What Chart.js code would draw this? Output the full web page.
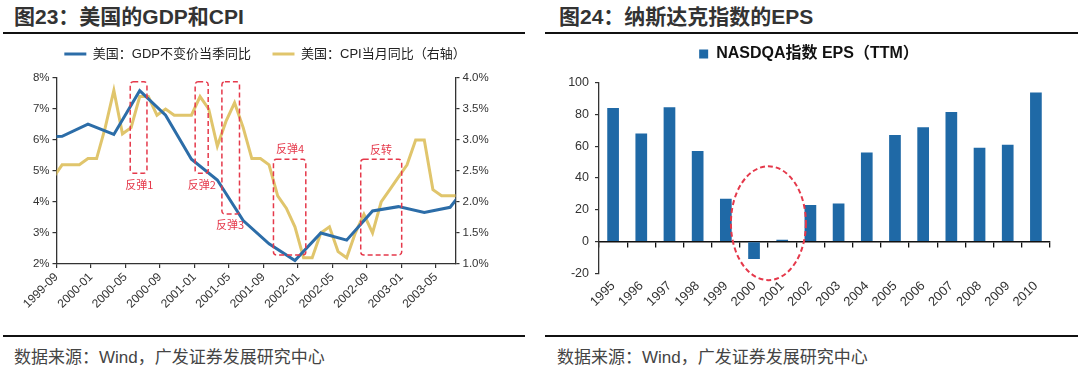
<!DOCTYPE html>
<html><head><meta charset="utf-8">
<script src="https://cdn.jsdelivr.net/npm/chart.js@4.4.0/dist/chart.umd.min.js"></script>
<style>
html,body{margin:0;padding:0;background:#fff;width:1080px;height:373px;overflow:hidden;font-family:"Liberation Sans","Noto Sans CJK SC",sans-serif;}
.title{position:absolute;top:5px;font-size:21px;font-weight:bold;color:#333;white-space:nowrap;line-height:24px;}
.rule{position:absolute;height:2px;background:#111;}
.src{position:absolute;top:347px;font-size:17px;color:#444;white-space:nowrap;line-height:22px;}
#w1{position:absolute;left:0;top:26px;width:530px;height:310px;}
#w2{position:absolute;left:540px;top:21px;width:540px;height:315px;}
</style></head>
<body>
<div class="title" style="left:14px">图23：美国的GDP和CPI</div>
<div class="title" style="left:559px">图24：纳斯达克指数的EPS</div>
<div class="rule" style="left:3px;top:32px;width:522px"></div>
<div class="rule" style="left:545px;top:32px;width:533px"></div>
<div class="rule" style="left:3px;top:335px;width:522px"></div>
<div class="rule" style="left:545px;top:335px;width:533px"></div>
<div class="src" style="left:14px">数据来源：Wind，广发证券发展研究中心</div>
<div class="src" style="left:557px">数据来源：Wind，广发证券发展研究中心</div>
<div id="w1"><canvas id="c1"></canvas></div>
<div id="w2"><canvas id="c2"></canvas></div>
<script>
// ---------- Chart 1 data ----------
const cpiMonths = ['1999-08','1999-09','1999-10','1999-11','1999-12',
 '2000-01','2000-02','2000-03','2000-04','2000-05','2000-06','2000-07','2000-08','2000-09','2000-10','2000-11','2000-12',
 '2001-01','2001-02','2001-03','2001-04','2001-05','2001-06','2001-07','2001-08','2001-09','2001-10','2001-11','2001-12',
 '2002-01','2002-02','2002-03','2002-04','2002-05','2002-06','2002-07','2002-08','2002-09','2002-10','2002-11','2002-12',
 '2003-01','2003-02','2003-03','2003-04','2003-05','2003-06','2003-07'];
const cpiValues = [2.4,2.6,2.6,2.6,2.7,
 2.7,3.2,3.8,3.1,3.2,3.7,3.7,3.4,3.5,3.4,3.4,3.4,
 3.7,3.5,2.9,3.3,3.6,3.2,2.7,2.7,2.6,2.1,1.9,1.6,
 1.1,1.1,1.5,1.6,1.2,1.1,1.5,1.8,1.5,2.0,2.2,2.4,
 2.6,3.0,3.0,2.2,2.1,2.1,2.1];
const gdpQuarters = ['1999-06','1999-09','1999-12','2000-03','2000-06','2000-09','2000-12','2001-03','2001-06',
 '2001-09','2001-12','2002-03','2002-06','2002-09','2002-12','2003-03','2003-06','2003-09'];
const gdpValues = [6.1,6.12,6.51,6.18,7.59,6.8,5.38,4.71,3.4,2.65,2.11,3.0,2.77,3.71,3.85,3.66,3.83,4.9];
const xTickLabels = ['1999-09','2000-01','2000-05','2000-09','2001-01','2001-05','2001-09','2002-01','2002-05','2002-09','2003-01','2003-05'];
const yLeftTickLabels = ['2%','3%','4%','5%','6%','7%','8%'];
const yRightTickLabels = ['1.0%','1.5%','2.0%','2.5%','3.0%','3.5%','4.0%'];
const seriesNames1 = ['美国：GDP不变价当季同比','美国：CPI当月同比（右轴）'];
// annotation boxes (x in months from 1999-09, y in left-axis %)
const boxNotes = [
  {text:'反弹1', x0:8.55, x1:10.49, y0:4.93, y1:7.88, tx:9.59, ty:4.56},
  {text:'反弹2', x0:16.08, x1:17.59, y0:4.93, y1:7.88, tx:16.86, ty:4.55},
  {text:'反弹3', x0:19.18, x1:21.22, y0:3.61, y1:7.88, tx:20.14, ty:3.26},
  {text:'反弹4', x0:25.16, x1:28.91, y0:2.29, y1:5.38, tx:27.09, ty:5.71},
  {text:'反转', x0:35.28, x1:40.03, y0:2.29, y1:5.38, tx:37.63, ty:5.68}
];
// ---------- Chart 2 data ----------
const years = ['1995','1996','1997','1998','1999','2000','2001','2002','2003','2004','2005','2006','2007','2008','2009','2010'];
const epsValues = [84,68,84.5,57,27,-11,1.2,23,24,56,67,72,81.5,59,61,93.8];
const seriesName2 = 'NASDQA指数 EPS（TTM）';
const ellipseNote = {xc:5.51, rx:1.33, y0:-24.3, y1:47.4};

const POS_IN_MONTH = 0.65;
function monthIndex(lbl){const p=lbl.split('-').map(Number);return (p[0]-1999)*12+(p[1]-9);}

const FONT = '"Liberation Sans","Noto Sans CJK SC",sans-serif';
Chart.defaults.font.family = FONT;
Chart.defaults.color = '#333';

// adds extra gap below the legend and an optional horizontal shift
function legendGap(extra, dx){
  return {id:'legendGap', beforeLayout(chart){
    const lg=chart.legend;
    if(lg && !lg._gapPatched){
      const f=lg.fit.bind(lg);
      lg.fit=function(){f(); this.height+=extra;};
      lg._gapPatched=true;
    }
  }, afterLayout(chart){
    const lg=chart.legend;
    if(lg && dx){lg.left+=dx; lg.right+=dx;}
  }};
}

const RED = '#E5394B';
const boxPlugin = {
  id:'boxNotes',
  afterDatasetsDraw(chart){
    const ctx=chart.ctx, xs=chart.scales.x, ys=chart.scales.y;
    ctx.save();
    ctx.strokeStyle=RED; ctx.lineWidth=1.5; ctx.setLineDash([5,3]);
    boxNotes.forEach(b=>{
      const l=xs.getPixelForValue(b.x0), r=xs.getPixelForValue(b.x1);
      const t=ys.getPixelForValue(b.y1), bt=ys.getPixelForValue(b.y0);
      ctx.beginPath();
      if(ctx.roundRect) ctx.roundRect(l,t,r-l,bt-t,3); else ctx.rect(l,t,r-l,bt-t);
      ctx.stroke();
    });
    ctx.setLineDash([]);
    ctx.fillStyle=RED; ctx.font='11px "Noto Sans CJK SC",sans-serif';
    ctx.textAlign='center'; ctx.textBaseline='middle';
    boxNotes.forEach(b=>{ctx.fillText(b.text, xs.getPixelForValue(b.tx), ys.getPixelForValue(b.ty));});
    ctx.restore();
  }
};

new Chart(document.getElementById('c1'),{
  type:'line',
  data:{datasets:[
    {label:seriesNames1[0], data:gdpQuarters.map((q,i)=>({x:monthIndex(q)+POS_IN_MONTH,y:gdpValues[i]})),
     borderColor:'#2C6DA8', backgroundColor:'#2C6DA8', borderWidth:3, pointRadius:0, pointStyle:'line', yAxisID:'y', tension:0},
    {label:seriesNames1[1], data:cpiMonths.map((m,i)=>({x:monthIndex(m)+POS_IN_MONTH,y:cpiValues[i]})),
     borderColor:'#E0C56C', backgroundColor:'#E0C56C', borderWidth:3, pointRadius:0, pointStyle:'line', yAxisID:'y1', tension:0}
  ]},
  options:{
    responsive:true, maintainAspectRatio:false, animation:false,
    layout:{padding:0},
    plugins:{
      legend:{position:'top', labels:{usePointStyle:true, pointStyleWidth:22, padding:21.5, font:{size:13}, color:'#222'}},
      tooltip:{enabled:false}
    },
    scales:{
      x:{type:'linear', min:0, max:46.27,
         ticks:{stepSize:4, includeBounds:false, autoSkip:false, maxRotation:45, minRotation:45, padding:2,
                font:{size:12}, color:'#333', callback:(v)=>xTickLabels[Math.round(v/4)]},
         grid:{drawOnChartArea:false, tickLength:4, color:'#333', lineWidth:1.2},
         border:{color:'#333', width:1.3},
         afterFit(s){s.height=72;}},
      y:{position:'left', min:2, max:8,
         ticks:{stepSize:1, font:{size:11.5}, color:'#333', padding:3, callback:(v,i)=>yLeftTickLabels[i]},
         grid:{drawOnChartArea:false, tickLength:4, color:'#333', lineWidth:1.2},
         border:{color:'#333', width:1.3},
         afterFit(s){s.width=56.5;}},
      y1:{position:'right', min:1, max:4,
         ticks:{stepSize:0.5, font:{size:11.5}, color:'#333', padding:3, callback:(v,i)=>yRightTickLabels[i]},
         grid:{drawOnChartArea:false, tickLength:4, color:'#333', lineWidth:1.2},
         border:{color:'#333', width:1.3},
         afterFit(s){s.width=74.5;}}
    }
  },
  plugins:[boxPlugin, legendGap(7.5, 0)]
});

const ellipsePlugin = {
  id:'ellipseNote',
  afterDatasetsDraw(chart){
    const ctx=chart.ctx, xs=chart.scales.x, ys=chart.scales.y, e=ellipseNote;
    const cx=xs.getPixelForValue(e.xc), rx=xs.getPixelForValue(e.xc+e.rx)-cx;
    const t=ys.getPixelForValue(e.y1), b=ys.getPixelForValue(e.y0);
    ctx.save();
    ctx.strokeStyle=RED; ctx.lineWidth=2; ctx.setLineDash([5,3]);
    ctx.beginPath(); ctx.ellipse(cx,(t+b)/2,rx,(b-t)/2,0,0,Math.PI*2); ctx.stroke();
    ctx.restore();
  }
};

new Chart(document.getElementById('c2'),{
  type:'bar',
  data:{labels:years, datasets:[{label:seriesName2, data:epsValues, backgroundColor:'#1F69A6', borderWidth:0,
        barPercentage:0.415, categoryPercentage:1.0, xAxisID:'x', yAxisID:'y'}]},
  options:{
    responsive:true, maintainAspectRatio:false, animation:false,
    layout:{padding:{top:0.3, right:30, left:0, bottom:0}},
    plugins:{
      legend:{position:'top', labels:{boxWidth:9, boxHeight:9, padding:24.7, font:{size:16, weight:'bold'}, color:'#111'}},
      tooltip:{enabled:false}
    },
    scales:{
      x:{type:'category', position:'bottom', offset:true,
         ticks:{autoSkip:false, maxRotation:45, minRotation:45, padding:-3, font:{size:13}, color:'#333'},
         grid:{display:false}, border:{display:false},
         afterFit(s){s.height=62.7;}},
      x0:{type:'category', axis:'x', labels:years, position:{y:0}, offset:true,
         ticks:{display:false},
         grid:{offset:true, drawOnChartArea:false, tickLength:5, color:'#111', lineWidth:1.3},
         border:{color:'#111', width:1.5}},
      y:{min:-20, max:100,
         ticks:{stepSize:20, font:{size:12.5}, color:'#333', padding:6},
         grid:{drawOnChartArea:false, tickLength:4, color:'#333', lineWidth:1.2},
         border:{color:'#333', width:1.3},
         afterFit(s){s.width=59;}}
    }
  },
  plugins:[ellipsePlugin, legendGap(10.7, 14)]
});
</script>
</body></html>
